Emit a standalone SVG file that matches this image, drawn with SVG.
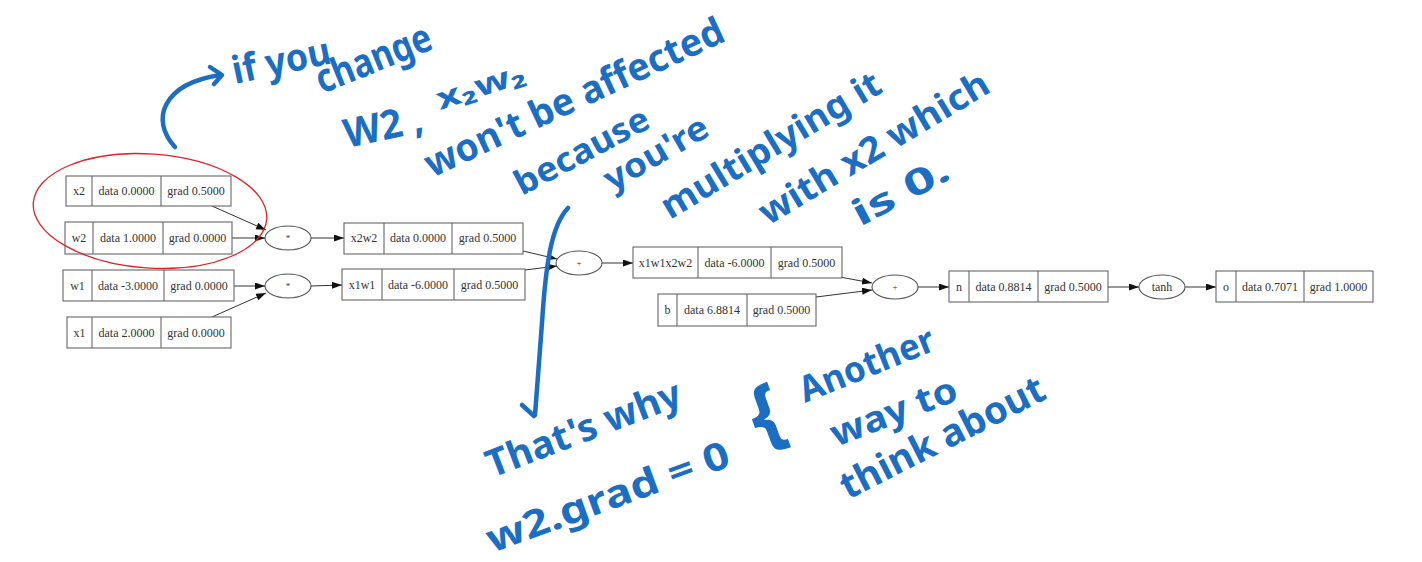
<svg xmlns="http://www.w3.org/2000/svg" width="1422" height="562" viewBox="0 0 1422 562">
<defs>
<marker id="ah" markerWidth="10" markerHeight="8" refX="10" refY="3.5" orient="auto" markerUnits="userSpaceOnUse">
<path d="M0,0 L10,3.5 L0,7 z" fill="#111"/>
</marker>
<style>
.box{fill:#fff;stroke:#666;stroke-width:1.1}
.div{stroke:#666;stroke-width:1.1}
.op{fill:#fff;stroke:#555;stroke-width:1.1}
.t{font-family:"Liberation Serif",serif;font-size:12px;fill:#333;text-anchor:middle}
.ts{font-family:"Liberation Serif",serif;font-size:9px;fill:#333;text-anchor:middle}
.e{fill:none;stroke:#333;stroke-width:1;marker-end:url(#ah)}
.hw{font-family:"Noto Sans",sans-serif;font-weight:700;fill:#1b6ec2}
.bl{fill:none;stroke:#1b6ec2;stroke-width:4.5;stroke-linecap:round;stroke-linejoin:round}
</style>
</defs>
<rect width="1422" height="562" fill="#fff"/>

<g id="connectors">
<path class="e" d="M212,206 L266,230"/>
<path class="e" d="M232,238 L265,238"/>
<path class="e" d="M311,238 L344,238"/>
<path class="e" d="M234,286 L265,286"/>
<path class="e" d="M212,317 L266,293"/>
<path class="e" d="M311,286 L342,285"/>
<path class="e" d="M523,251 L557,259"/>
<path class="e" d="M525,270 L557,266"/>
<path class="e" d="M602,263 L633,263"/>
<path class="e" d="M840,277 L872,283"/>
<path class="e" d="M816,297 L872,290"/>
<path class="e" d="M918,287 L949,287"/>
<path class="e" d="M1185,287 L1216,287"/>
<path class="e" d="M1108,287 L1139,287"/>
</g>

<g id="x2">
<rect class="box" x="66" y="176" width="165" height="30"/>
<line class="div" x1="92" y1="176" x2="92" y2="206"/><line class="div" x1="161" y1="176" x2="161" y2="206"/>
<text class="t" x="79" y="195">x2</text><text class="t" x="126.5" y="195">data 0.0000</text><text class="t" x="196" y="195">grad 0.5000</text>
</g>
<g id="w2">
<rect class="box" x="65" y="222" width="167" height="32"/>
<line class="div" x1="93" y1="222" x2="93" y2="254"/><line class="div" x1="163" y1="222" x2="163" y2="254"/>
<text class="t" x="79" y="242">w2</text><text class="t" x="128" y="242">data 1.0000</text><text class="t" x="197.5" y="242">grad 0.0000</text>
</g>
<g id="w1">
<rect class="box" x="63" y="270" width="171" height="31"/>
<line class="div" x1="92" y1="270" x2="92" y2="301"/><line class="div" x1="164" y1="270" x2="164" y2="301"/>
<text class="t" x="77.5" y="290">w1</text><text class="t" x="128" y="290">data -3.0000</text><text class="t" x="199" y="290">grad 0.0000</text>
</g>
<g id="x1">
<rect class="box" x="67" y="317" width="164" height="31"/>
<line class="div" x1="92" y1="317" x2="92" y2="348"/><line class="div" x1="161" y1="317" x2="161" y2="348"/>
<text class="t" x="79.5" y="337">x1</text><text class="t" x="126.5" y="337">data 2.0000</text><text class="t" x="196" y="337">grad 0.0000</text>
</g>
<g id="mul1">
<ellipse class="op" cx="288" cy="238" rx="23" ry="12"/><text class="ts" x="288" y="241">*</text>
</g>
<g id="mul2">
<ellipse class="op" cx="288" cy="286" rx="23" ry="12"/><text class="ts" x="288" y="289">*</text>
</g>
<g id="x2w2">
<rect class="box" x="344" y="223" width="179" height="31"/>
<line class="div" x1="384" y1="223" x2="384" y2="254"/><line class="div" x1="452" y1="223" x2="452" y2="254"/>
<text class="t" x="364" y="242">x2w2</text><text class="t" x="418" y="242">data 0.0000</text><text class="t" x="487.5" y="242">grad 0.5000</text>
</g>
<g id="x1w1">
<rect class="box" x="342" y="269" width="183" height="31"/>
<line class="div" x1="382" y1="269" x2="382" y2="300"/><line class="div" x1="454" y1="269" x2="454" y2="300"/>
<text class="t" x="362" y="289">x1w1</text><text class="t" x="418" y="289">data -6.0000</text><text class="t" x="489.5" y="289">grad 0.5000</text>
</g>
<g id="add1">
<ellipse class="op" cx="579" cy="263" rx="23" ry="12"/><text class="ts" x="579" y="266">+</text>
</g>
<g id="x1w1x2w2">
<rect class="box" x="633" y="247" width="209" height="31"/>
<line class="div" x1="698" y1="247" x2="698" y2="278"/><line class="div" x1="771" y1="247" x2="771" y2="278"/>
<text class="t" x="665.5" y="267">x1w1x2w2</text><text class="t" x="734.5" y="267">data -6.0000</text><text class="t" x="806.5" y="267">grad 0.5000</text>
</g>
<g id="b">
<rect class="box" x="658" y="294" width="158" height="32"/>
<line class="div" x1="677" y1="294" x2="677" y2="326"/><line class="div" x1="747" y1="294" x2="747" y2="326"/>
<text class="t" x="667.5" y="314">b</text><text class="t" x="712" y="314">data 6.8814</text><text class="t" x="781.5" y="314">grad 0.5000</text>
</g>
<g id="add2">
<ellipse class="op" cx="895" cy="287" rx="23" ry="12"/><text class="ts" x="895" y="290">+</text>
</g>
<g id="n">
<rect class="box" x="949" y="271" width="159" height="31"/>
<line class="div" x1="969" y1="271" x2="969" y2="302"/><line class="div" x1="1038" y1="271" x2="1038" y2="302"/>
<text class="t" x="959" y="291">n</text><text class="t" x="1003.5" y="291">data 0.8814</text><text class="t" x="1073" y="291">grad 0.5000</text>
</g>
<g id="tanh">
<ellipse class="op" cx="1162" cy="287" rx="23" ry="12"/><text class="t" x="1162" y="291">tanh</text>
</g>
<g id="o">
<rect class="box" x="1216" y="271" width="157" height="31"/>
<line class="div" x1="1236" y1="271" x2="1236" y2="302"/><line class="div" x1="1304" y1="271" x2="1304" y2="302"/>
<text class="t" x="1226" y="291">o</text><text class="t" x="1270" y="291">data 0.7071</text><text class="t" x="1338.5" y="291">grad 1.0000</text>
</g>

<g id="annotations">
<ellipse cx="150" cy="211" rx="117" ry="57" transform="rotate(4 150 211)" fill="none" stroke="#d9262b" stroke-width="1.3"/>
<path class="bl" d="M175,147 C150,120 162,84 220,75"/>
<path class="bl" d="M210,67 L222,75 L214,84"/>
<path class="bl" d="M568,208 C552,225 546,260 542,323 L535,415"/>
<path class="bl" d="M522,405 L534,416"/>
<text class="hw" font-size="38" transform="translate(235,84) rotate(-12)" textLength="100" lengthAdjust="spacingAndGlyphs">if you</text>
<text class="hw" font-size="40" transform="translate(322,94) rotate(-22)" textLength="122" lengthAdjust="spacingAndGlyphs">change</text>
<text class="hw" font-size="40" transform="translate(347,148) rotate(-12)" textLength="80" lengthAdjust="spacingAndGlyphs">W2 ,</text>
<text class="hw" font-size="30" transform="translate(440,110) rotate(-18)" textLength="92" lengthAdjust="spacingAndGlyphs">x₂w₂</text>
<text class="hw" font-size="38" transform="translate(432,178) rotate(-25)" textLength="326" lengthAdjust="spacingAndGlyphs">won't be affected</text>
<text class="hw" font-size="34" transform="translate(522,196) rotate(-28)" textLength="148" lengthAdjust="spacingAndGlyphs">because</text>
<text class="hw" font-size="34" transform="translate(612,192) rotate(-30)" textLength="115" lengthAdjust="spacingAndGlyphs">you're</text>
<text class="hw" font-size="36" transform="translate(670,220) rotate(-31)" textLength="250" lengthAdjust="spacingAndGlyphs">multiplying it</text>
<text class="hw" font-size="36" transform="translate(768,226) rotate(-31)" textLength="262" lengthAdjust="spacingAndGlyphs">with x2 which</text>
<text class="hw" font-size="36" transform="translate(860,227) rotate(-28)" textLength="105" lengthAdjust="spacingAndGlyphs">is 0.</text>
<text class="hw" font-size="38" transform="translate(492,478) rotate(-21)" textLength="206" lengthAdjust="spacingAndGlyphs">That's why</text>
<text class="hw" font-size="38" transform="translate(492,553) rotate(-20)" textLength="256" lengthAdjust="spacingAndGlyphs">w2.grad = 0</text>
<text class="hw" font-size="80" font-weight="400" transform="translate(760,445) rotate(-20)">{</text>
<text class="hw" font-size="36" transform="translate(805,403) rotate(-22)" textLength="143" lengthAdjust="spacingAndGlyphs">Another</text>
<text class="hw" font-size="36" transform="translate(836,447) rotate(-21)" textLength="133" lengthAdjust="spacingAndGlyphs">way to</text>
<text class="hw" font-size="38" transform="translate(848,500) rotate(-27)" textLength="225" lengthAdjust="spacingAndGlyphs">think about</text>
</g>
</svg>
